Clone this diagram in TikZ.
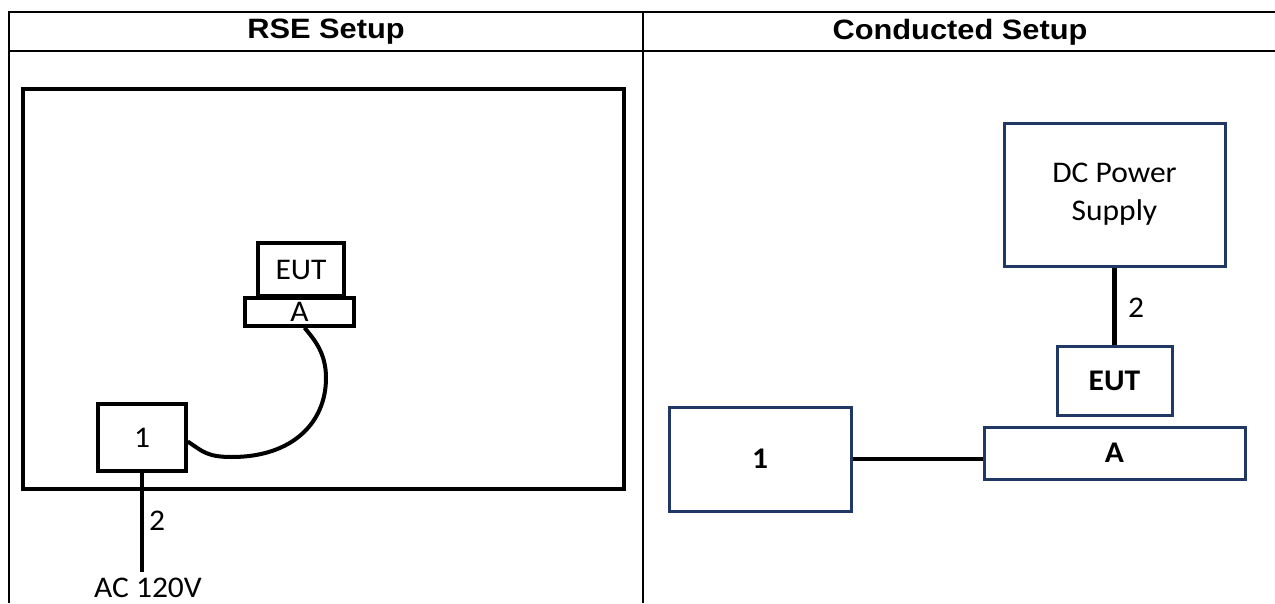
\documentclass[tikz,border=0pt]{standalone}
\usepackage{fontspec}
\setmainfont[FakeStretch=1.05]{Carlito}
\newfontfamily\headfont[FakeStretch=1.1]{Liberation Sans}
\usepackage{tikz}
\usetikzlibrary{positioning,calc}
\definecolor{navy}{HTML}{203864}
\tikzset{
    head/.style={
    font=\headfont\bfseries\fontsize{28}{32}\selectfont
    },
    chamber/.style={
    rectangle,draw=black,line width=3.5pt,inner sep=0pt
    },
    rbox/.style={
    rectangle,draw=black,line width=3.5pt,inner sep=0pt,font=\fontsize{30}{34}\selectfont
    },
    cbox/.style={
    rectangle,draw=navy,line width=3pt,inner sep=0pt,font=\fontsize{30}{38}\selectfont,align=center
    },
    lbl/.style={inner sep=2pt,font=\fontsize{30}{34}\selectfont},
  cable/.style={draw, line width=4pt},
  frame/.style={draw, line width=1.6pt},
}
\begin{document}
\begin{tikzpicture}[x=1pt, y=-1pt]
   \useasboundingbox (0,0) rectangle (1275,603);
   % table
   \draw[frame] (9,603) -- (9,12) -- (1275,12);
   \draw[frame] (9,51) -- (1275,51);
   \draw[frame] (643,12) -- (643,603);
   \node[head] (rsehead) at (326,32) {RSE Setup};
   \node[head] (condhead) at (960,32) {Conducted Setup};

   % RSE setup
   \node[chamber, minimum width=601pt, minimum height=400pt] (room) at (323.5,289) {};
   \node[rbox, minimum width=86pt, minimum height=53pt] (reut) at (301,269.5) {EUT};
   \node[rbox, minimum width=109pt, minimum height=28pt] (rA) at (299.5,312) {A};
   \node[rbox, minimum width=88pt, minimum height=67pt] (rone) at (142,437.5) {1};
   \node[lbl] (rtwo) at (157,521) {2};
   \node[lbl, inner sep=0pt, anchor=base] (ac) at (148,597) {AC 120V};

   \draw[cable] (rone.south) -- ([yshift=5pt]rone.south |- ac.north);
   \draw[cable] ([yshift=-4pt]rone.east) .. controls +(15,10) and +(-25,0) .. (232,457)
         .. controls +(60,0) and +(0,45) .. (326,378)
         .. controls +(0,-25) and +(10,12) .. ([xshift=5pt]rA.south);

   % Conducted setup
   \node[cbox, minimum width=221pt, minimum height=143pt] (dc) at (1114.5,194.5) {DC Power\\Supply};
   \node[cbox, minimum width=115pt, minimum height=69pt, font=\fontsize{30}{34}\selectfont\bfseries] (ceut) at (1114.5,380.5) {EUT};
   \node[cbox, minimum width=261pt, minimum height=52pt, font=\fontsize{30}{34}\selectfont\bfseries] (cA) at (1114.5,453) {A};
   \node[cbox, minimum width=182pt, minimum height=104pt, font=\fontsize{30}{34}\selectfont\bfseries] (cone) at (760,459) {1};
   \node[lbl] (ctwo) at (1136,308) {2};

   \draw[cable, line width=4.5pt] (dc.south) -- (ceut.north);
   \draw[cable, line width=4.5pt] (cone.east) -- (cone.east -| cA.west);
\end{tikzpicture}
\end{document}
